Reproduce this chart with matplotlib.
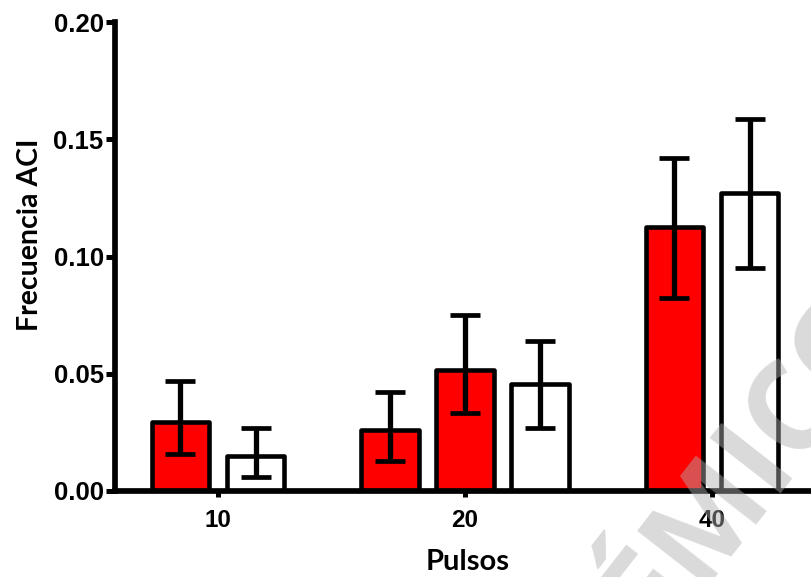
import matplotlib
matplotlib.use('Agg')
import matplotlib.pyplot as plt
import numpy as np

# ---- data ----
groups = ['10', '20', '40']
bar_group = ['10', '10', '20', '20', '20', '40', '40']
bar_fill = ['#ff0000', '#ffffff', '#ff0000', '#ff0000', '#ffffff', '#ff0000', '#ffffff']
bar_value = [0.0296, 0.0149, 0.0259, 0.0516, 0.0455, 0.1126, 0.1272]
err_upper = [0.0470, 0.0270, 0.0423, 0.0749, 0.0640, 0.1420, 0.1585]
err_lower = [0.0157, 0.0061, 0.0128, 0.0331, 0.0270, 0.0824, 0.0950]
y_ticks = [0.00, 0.05, 0.10, 0.15, 0.20]
y_label = 'Frecuencia ACI'
x_label = 'Pulsos'

# ---- layout ----
W, H = 811, 577
fig = plt.figure(figsize=(W / 100, H / 100), dpi=100)
ax_left, ax_bottom_px, ax_top_px = 114.5, 491, 22
ax = fig.add_axes([ax_left / W, (H - ax_bottom_px) / H,
                   1 - ax_left / W, (ax_bottom_px - ax_top_px) / H])

spacing = 0.304
width = 0.233
group_pos = {g: i for i, g in enumerate(groups)}
xpos = []
for g in bar_group:
    idx = [k for k, bg in enumerate(bar_group) if bg == g]
    n = len(idx)
    i = len(xpos) - idx[0]
    xpos.append(group_pos[g] + (i - (n - 1) / 2) * spacing)
xpos = np.array(xpos)
vals = np.array(bar_value)
yerr = np.array([vals - np.array(err_lower), np.array(err_upper) - vals])

bars = ax.bar(xpos, vals, width=width, color=bar_fill, edgecolor='black',
              linewidth=3.3, zorder=2)
for b in bars:
    b.set_joinstyle('round')
ax.errorbar(xpos, vals, yerr=yerr, fmt='none', ecolor='black',
            elinewidth=3.8, capsize=10.8, capthick=3.4, zorder=3)

ax.set_ylim(0, 0.20)
ax.set_xlim((114.5 - 218) / 247, (811 - 218) / 247)
ax.set_yticks(y_ticks)
ax.set_yticklabels([f'{v:.2f}' for v in y_ticks])
ax.set_xticks(range(len(groups)))
ax.set_xticklabels(groups)

for s in ['top', 'right']:
    ax.spines[s].set_visible(False)
for s in ['left', 'bottom']:
    ax.spines[s].set_linewidth(4.1)
ax.tick_params(axis='y', length=6.8, width=3.6, pad=1,
               labelsize=18.5)
ax.tick_params(axis='x', length=4.3, width=3.6, pad=9,
               labelsize=17.5)
for lab in ax.get_yticklabels() + ax.get_xticklabels():
    lab.set_fontfamily('Liberation Sans')
    lab.set_fontweight('bold')

ax.set_ylabel(y_label, fontfamily='Lato', fontweight='bold', fontsize=20.5)
ax.yaxis.set_label_coords((43 - ax_left) / (W - ax_left), (491 - 235) / 469)
ax.set_xlabel(x_label, fontfamily='Lato', fontweight='bold', fontsize=21, va='baseline')
ax.xaxis.set_label_coords((468 - ax_left) / (W - ax_left), (491 - 570) / 469)

# watermark
fig.text(655 / W, 1 - 640 / H, 'ÉMICO', fontfamily='Open Sans', fontweight='bold',
         fontsize=90, color=(174 / 255, 174 / 255, 174 / 255), alpha=0.46,
         rotation=52, rotation_mode='anchor', ha='left', va='baseline', zorder=10)

fig.savefig('out.png', dpi=100)
